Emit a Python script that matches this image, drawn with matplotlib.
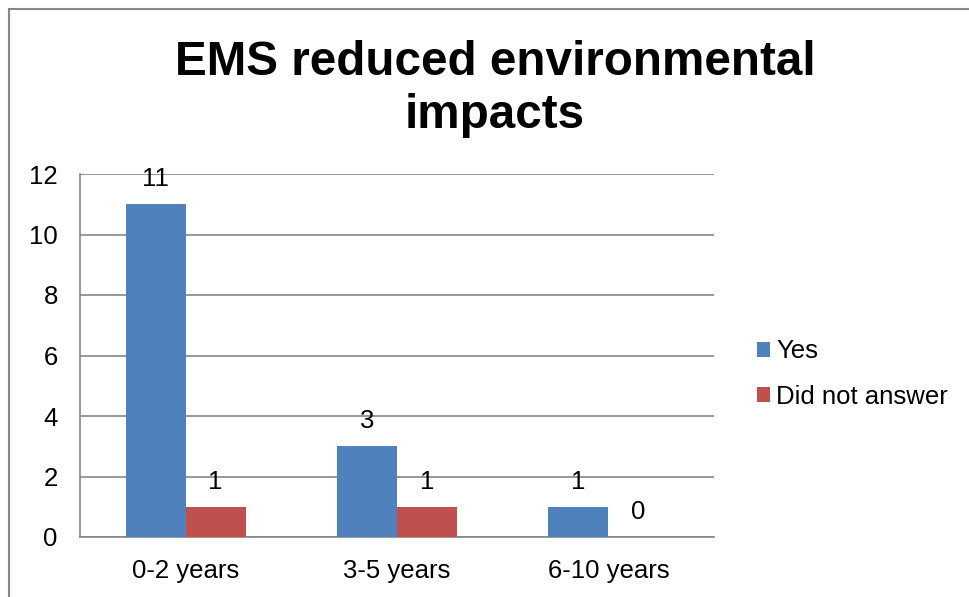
import numpy as np
import matplotlib
matplotlib.use("Agg")
import matplotlib.pyplot as plt
from matplotlib.patches import Rectangle

plt.rcParams['font.family'] = ['Liberation Sans', 'DejaVu Sans']

categories = ['0-2 years', '3-5 years', '6-10 years']
yes_vals = [11, 3, 1]
no_answer_vals = [1, 1, 0]
series_names = ['Yes', 'Did not answer']
colors = ['#4f81bd', '#c0504d']

fig = plt.figure(figsize=(9.70, 5.97), dpi=100)
W, H = 970, 597

# outer chart frame (right and bottom edges run off the image)
fig.patches.append(Rectangle((9 / W, -0.05), 1.1, 1 - 9 / H + 0.05,
                             transform=fig.transFigure, fill=False,
                             edgecolor='#868686', linewidth=1.5))

ax = fig.add_axes([80 / W, 1 - 537 / H, (714 - 80) / W, (537 - 174) / H])

x = np.arange(len(categories))
bw = 0.284
b1 = ax.bar(x - bw / 2, yes_vals, bw, color=colors[0], label=series_names[0], zorder=3)
b2 = ax.bar(x + bw / 2, no_answer_vals, bw, color=colors[1], label=series_names[1], zorder=3)

for bars in (b1, b2):
    for rect in bars:
        h = rect.get_height()
        ax.annotate(f'{h:g}', (rect.get_x() + rect.get_width() / 2, h),
                    xytext=(0, 18), textcoords='offset points',
                    ha='center', va='center', fontsize=18.5, zorder=4)

ax.set_xlim(-0.5, 2.5)
ax.set_ylim(0, 12)
ax.set_yticks(range(0, 13, 2))
ax.set_xticks(x)
ax.set_xticklabels(categories)
ax.tick_params(axis='both', length=0, labelsize=18.5)
ax.tick_params(axis='y', pad=16)
ax.tick_params(axis='x', pad=16)
ax.grid(axis='y', color='#868686', linewidth=1.2, zorder=0)
for s in ['top', 'right']:
    ax.spines[s].set_visible(False)
for s in ['left', 'bottom']:
    ax.spines[s].set_color('#868686')
    ax.spines[s].set_linewidth(1.2)

fig.text(495 / W, 1 - 89 / H, 'EMS reduced environmental\nimpacts', ha='center', va='center',
         fontsize=34.3, fontweight='bold', linespacing=1.25)

ax.legend(loc='center left', bbox_to_anchor=(734 / W, 1 - 374 / H),
          bbox_transform=fig.transFigure, frameon=False, fontsize=18.5,
          handlelength=0.5, handleheight=0.5, handletextpad=0.25, labelspacing=0.82)

fig.savefig('out.png', dpi=100)
